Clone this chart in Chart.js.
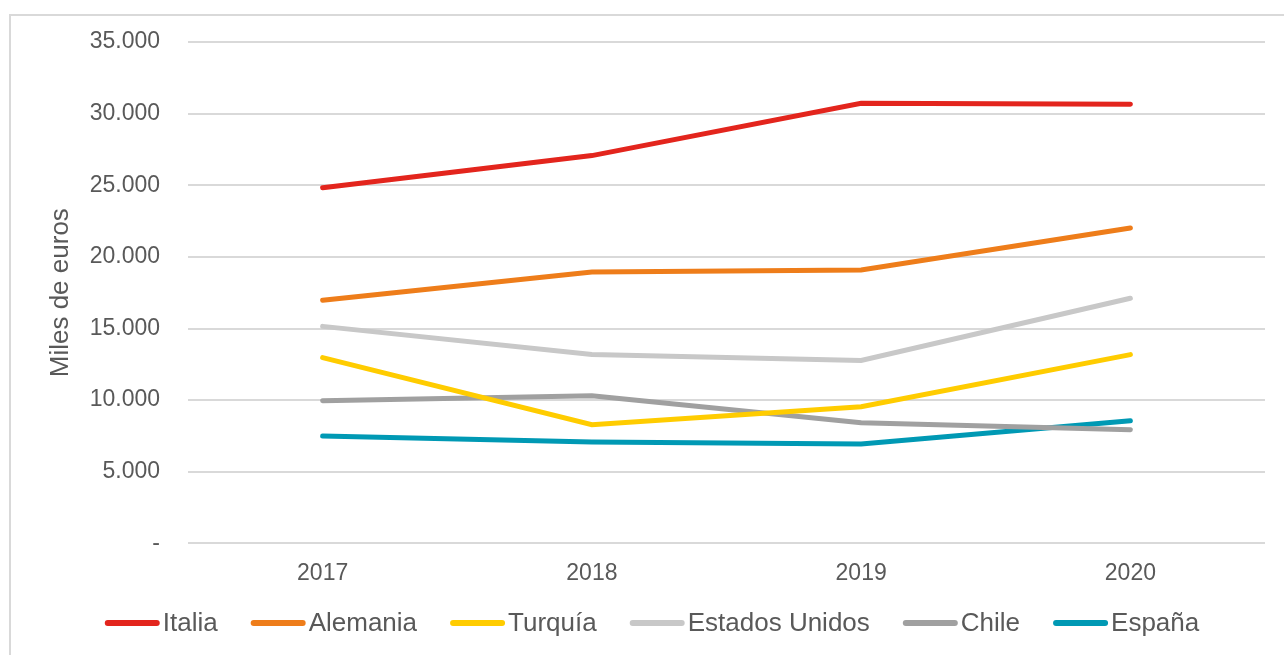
<!DOCTYPE html>
<html>
<head>
<meta charset="utf-8">
<script src="https://cdn.jsdelivr.net/npm/chart.js@4.4.0/dist/chart.umd.min.js"></script>
<style>
  body { margin: 0; background: #fff; overflow: hidden; }
  #frame { position: absolute; left: 9px; top: 14px; width: 1300px; height: 700px; border: 2px solid #d9d9d9; }
  #wrap { position: absolute; left: 0; top: 0; width: 1284px; height: 655px; }
</style>
</head>
<body>
<div id="frame"></div>
<div id="wrap"><canvas id="chart" width="1284" height="655"></canvas></div>
<script>
const years = ["2017", "2018", "2019", "2020"];
const countries = ["Italia", "Alemania", "Turquía", "Estados Unidos", "Chile", "España"];
const colors = ["#e3251d", "#ee7d1a", "#ffcc00", "#c8c8c8", "#a0a0a0", "#0099b4"];

const italia = [24830, 27070, 30720, 30650];
const alemania = [16970, 18940, 19080, 22020];
const turquia = [12970, 8280, 9540, 13180];
const estadosUnidos = [15150, 13190, 12770, 17110];
const chile = [9960, 10310, 8420, 7930];
const espana = [7500, 7080, 6940, 8560];

const series = [italia, alemania, turquia, estadosUnidos, chile, espana];

const font = "'Liberation Sans', Arial, sans-serif";
const textColor = "#595959";

// legend drawn by hand: short thick line, text right next to it
const lineLegend = {
    id: "lineLegend",
    afterDraw(chart) {
        const c = chart.ctx;
        const seg = 55, gap = 3, spacing = 33, y = 623;
        c.save();
        c.font = "26px " + font;
        c.textBaseline = "middle";
        const items = chart.data.datasets.map((ds) => ({ ds, w: c.measureText(ds.label).width }));
        const total = items.reduce((s, it) => s + seg + gap + it.w, 0) + spacing * (items.length - 1);
        let x = 652 - total / 2;
        items.forEach(({ ds, w }) => {
            c.strokeStyle = ds.borderColor;
            c.lineWidth = 6;
            c.lineCap = "round";
            c.beginPath();
            c.moveTo(x + 3, y);
            c.lineTo(x + seg - 3, y);
            c.stroke();
            c.fillStyle = textColor;
            c.fillText(ds.label, x + seg + gap, y + 1);
            x += seg + gap + w + spacing;
        });
        c.restore();
    },
};

const ctx = document.getElementById("chart").getContext("2d");
new Chart(ctx, {
    type: "line",
    data: {
        labels: years,
        datasets: countries.map((name, i) => ({
            label: name,
            data: series[i],
            borderColor: colors[i],
            backgroundColor: colors[i],
            borderWidth: 5,
            borderCapStyle: "round",
            pointRadius: 0,
            tension: 0,
            fill: false,
        })),
    },
    plugins: [lineLegend],
    options: {
        responsive: false,
        animation: false,
        layout: { padding: { top: 42, right: 19, bottom: 52, left: 38 } },
        plugins: {
            tooltip: { enabled: false },
            legend: { display: false },
        },
        scales: {
            x: {
                offset: true,
                grid: { display: false, drawTicks: false },
                border: { display: false },
                ticks: { color: textColor, font: { family: font, size: 23 }, padding: 16 },
            },
            y: {
                min: 0,
                max: 35000,
                afterFit: (axis) => { axis.width = 150; },
                grid: { color: "#d9d9d9", lineWidth: 2, drawTicks: false },
                border: { display: false },
                ticks: {
                    stepSize: 5000,
                    padding: 28,
                    color: textColor,
                    font: { family: font, size: 23 },
                    callback: (v) => v === 0 ? "-" : v.toLocaleString("de-DE"),
                },
                title: {
                    display: true,
                    text: "Miles de euros",
                    color: textColor,
                    font: { family: font, size: 26 },
                    padding: { top: 7, bottom: 0 },
                },
            },
        },
    },
});
</script>
</body>
</html>
